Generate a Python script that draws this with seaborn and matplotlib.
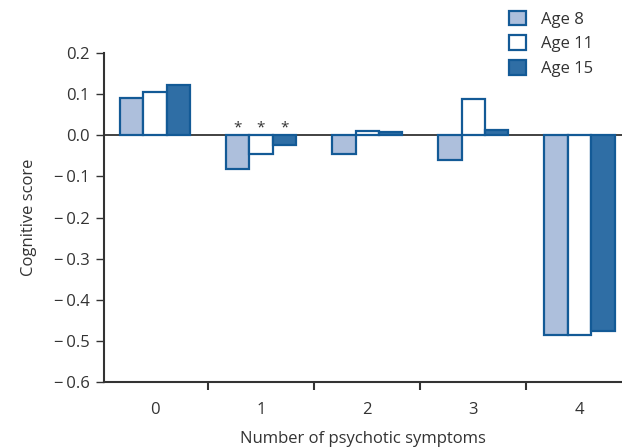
import matplotlib
matplotlib.use("Agg")
import matplotlib.pyplot as plt
from matplotlib.patches import Patch
import seaborn as sns
import pandas as pd

# values
symptoms = ["0", "1", "2", "3", "4"]
ages = ["Age 8", "Age 11", "Age 15"]
age8 = [0.091, -0.081, -0.045, -0.060, -0.485]
age11 = [0.106, -0.045, 0.011, 0.087, -0.485]
age15 = [0.123, -0.025, 0.007, 0.012, -0.475]
y_ticks = [0.2, 0.1, 0.0, -0.1, -0.2, -0.3, -0.4, -0.5, -0.6]
star_group = "1"

fill_colors = ["#adbfdc", "#ffffff", "#2f6ea5"]
edge_color = "#135a96"
text_color = "#333333"
fs = 12

rows = []
for age, vals in zip(ages, [age8, age11, age15]):
    for s, v in zip(symptoms, vals):
        rows.append({"symptoms": s, "age": age, "score": v})
df = pd.DataFrame(rows)

sns.set_style("white")
plt.rcParams["font.family"] = ["Open Sans", "DejaVu Sans"]

fig = plt.figure(figsize=(6.22, 4.48), dpi=100)
ax = fig.add_axes([0.167, 0.147, 0.833, 0.735])

sns.barplot(data=df, x="symptoms", y="score", hue="age", order=symptoms,
            hue_order=ages, palette=fill_colors, saturation=1, width=0.66,
            ax=ax, edgecolor=edge_color, linewidth=1.6, legend=False, zorder=3)

ax.axhline(0, color=text_color, lw=1.3, zorder=2)

# asterisks over group 1
gi = symptoms.index(star_group)
for j in range(3):
    ax.text(gi + (j - 1) * 0.22, 0.018, "*", ha="center", va="center",
            fontsize=11, color=text_color)

ax.set_ylim(-0.6, 0.2)
ax.set_xlim(-0.48, 4.4)
ax.set_yticks(y_ticks)
ax.set_yticklabels([f"{v:.1f}" if v >= 0 else f"\u2212\u2009{abs(v):.1f}"
                    for v in y_ticks])
ax.set_xticks(range(len(symptoms)))
ax.set_xticks([0.5, 1.5, 2.5, 3.5], minor=True)
ax.tick_params(axis="x", which="major", length=0, pad=14, labelsize=fs,
               labelcolor=text_color)
ax.tick_params(axis="x", which="minor", length=6, width=1.5, color=text_color,
               direction="out", bottom=True)
ax.tick_params(axis="y", length=6, width=1, color=text_color, direction="out",
               left=True, labelsize=fs, labelcolor=text_color, pad=4)

for side in ["top", "right"]:
    ax.spines[side].set_visible(False)
for side in ["left", "bottom"]:
    ax.spines[side].set_color(text_color)
    ax.spines[side].set_linewidth(1.5)

ax.set_xlabel("Number of psychotic symptoms", fontsize=fs, color=text_color,
              labelpad=10)
ax.set_ylabel("Cognitive score", fontsize=fs, color=text_color, labelpad=12)

handles = [Patch(facecolor=c, edgecolor=edge_color, linewidth=1.6, label=a)
           for c, a in zip(fill_colors, ages)]
fig.legend(handles=handles, loc="upper left", bbox_to_anchor=(0.795, 1.01),
           frameon=False, fontsize=fs, handlelength=1.0, handleheight=1.0,
           labelspacing=0.45, handletextpad=0.9, labelcolor=text_color)

fig.savefig("out.png", dpi=100)
